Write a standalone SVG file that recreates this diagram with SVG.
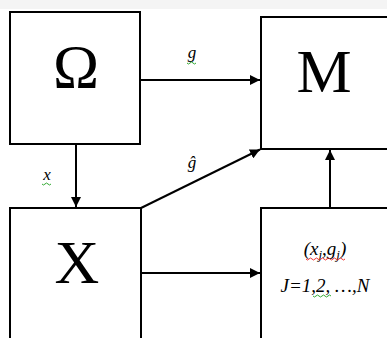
<svg xmlns="http://www.w3.org/2000/svg" width="387" height="338" viewBox="0 0 387 338">
<style>
.box{fill:#fff;stroke:#000;stroke-width:2}
.big{font-family:"Liberation Serif","Times New Roman",serif;font-size:62px;text-anchor:middle;fill:#000}
.lbl{font-family:"Liberation Serif","Times New Roman",serif;font-style:italic;font-size:17px;text-anchor:middle;fill:#000}
.dat{font-family:"Liberation Serif","Times New Roman",serif;font-style:italic;font-size:19px;text-anchor:middle;fill:#000}
.con{stroke:#000;stroke-width:2;fill:none;marker-end:url(#ah)}
.sqg{stroke:#3a3;stroke-width:1;fill:none}
.sqr{stroke:#e33;stroke-width:1;fill:none}
</style>
<defs>
<marker id="ah" viewBox="0 0 10 10" refX="10" refY="5" markerWidth="5" markerHeight="5" orient="auto" markerUnits="strokeWidth">
<path d="M0,0 L10,5 L0,10 z" fill="#000"/>
</marker>
</defs>
<rect x="0" y="0" width="387" height="338" fill="#fff"/>
<rect x="0" y="0" width="387" height="9" fill="#f4f4f4"/>
<g id="omega">
<rect class="box" x="10" y="12" width="130" height="132"/>
<text class="big" x="76" y="87">Ω</text>
</g>
<g id="M">
<rect class="box" x="261" y="17" width="130" height="132"/>
<text class="big" x="324" y="92">M</text>
</g>
<g id="X">
<rect class="box" x="10" y="208" width="131" height="140"/>
<text class="big" x="77" y="283">X</text>
</g>
<g id="data">
<rect class="box" x="261" y="208" width="130" height="140"/>
<text class="dat" x="325" y="255">(x<tspan font-size="13" dy="4">j</tspan><tspan dy="-4">,g</tspan><tspan font-size="13" dy="4">j</tspan><tspan dy="-4">)</tspan></text>
<text class="dat" x="325" y="292">J=1,2, …,N</text>
<path class="sqr" d="M306,259 q1.5,2 3,0 t3,0 t3,0 t3,0 t3,0 t3,0 t3,0 t3,0 t3,0 t3,0 t3,0 t3,0 t3,0"/>
<path class="sqg" d="M313,296 q1.5,2 3,0 t3,0 t3,0 t3,0 t3,0 t3,0"/>
</g>
<g id="connectors">
<line class="con" x1="141" y1="80" x2="260" y2="80"/>
<line class="con" x1="76" y1="145" x2="76" y2="207"/>
<line class="con" x1="141" y1="208" x2="260" y2="149.5"/>
<line class="con" x1="142" y1="273" x2="260" y2="273"/>
<line class="con" x1="330" y1="207" x2="330" y2="150"/>
<text class="lbl" x="192" y="58">g</text>
<path class="sqg" d="M187,63 q1.5,2 3,0 t3,0 t3,0"/>
<text class="lbl" x="47" y="180">x</text>
<path class="sqg" d="M42,184 q1.5,2 3,0 t3,0 t3,0"/>
<text class="lbl" x="192" y="168">ĝ</text>
</g>
</svg>
